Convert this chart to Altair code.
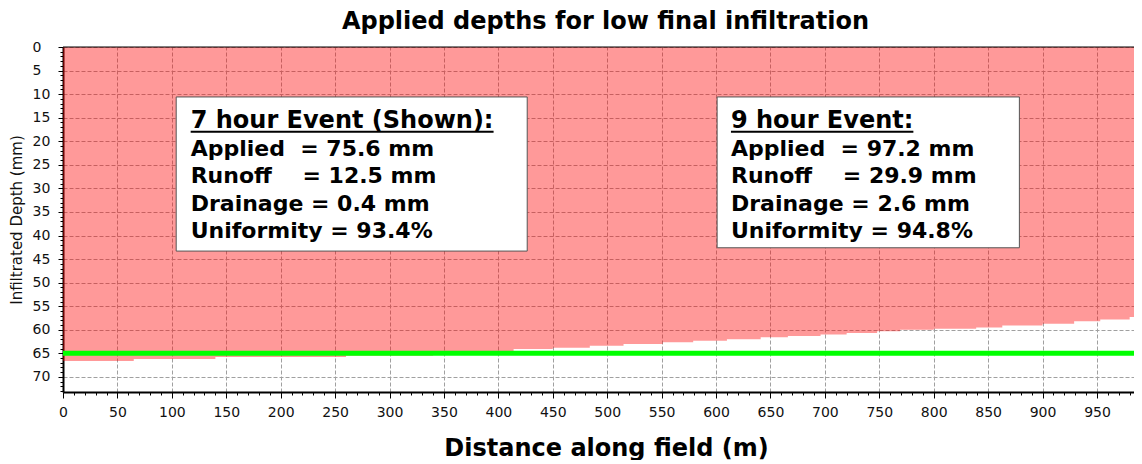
import altair as alt
import pandas as pd

# ---------------- data ----------------
distance_m = [0, 65, 140, 260, 340, 414, 450, 484, 515, 551, 579, 610, 641, 666,
              696, 720, 748, 769, 800, 839, 863, 900, 929, 953, 980, 991]
infiltrated_mm = [66.6, 66.2, 65.8, 65.5, 65.2, 64.1, 63.8, 63.4, 63.0, 62.65, 62.3,
                  62.0, 61.6, 61.3, 61.0, 60.7, 60.3, 60.0, 59.8, 59.5, 59.1, 58.7,
                  58.2, 57.8, 57.3, 56.9]
target_depth_mm = [65]

x_tick_values = list(range(0, 985, 10))   # minor every 10 m, labelled every 50 m
y_tick_values = list(range(0, 74))        # minor every 1 mm, labelled every 5 mm

event7_lines = ["7 hour Event (Shown):",
                "Applied\u00a0\u00a0= 75.6 mm",
                "Runoff\u00a0\u00a0\u00a0\u00a0= 12.5 mm",
                "Drainage = 0.4 mm",
                "Uniformity = 93.4%"]
event9_lines = ["9 hour Event:",
                "Applied\u00a0\u00a0= 97.2 mm",
                "Runoff\u00a0\u00a0\u00a0\u00a0= 29.9 mm",
                "Drainage = 2.6 mm",
                "Uniformity = 94.8%"]

# ---------------- annotation layout (data units) ----------------
box_x0 = [104, 601]
box_x1 = [426.5, 878.7]
box_y0 = [10.6, 10.6]
box_y1 = [43.3, 42.6]
text_x = [117.3, 613.7]
line_y = [17.25, 23.06, 28.9, 34.7, 40.6]
underline_x1 = [395.6, 781.3]
underline_y = 17.97

FONT = "DejaVu Sans"

area_df = pd.DataFrame({"dist": distance_m, "depth": infiltrated_mm})
target_df = pd.DataFrame({"depth": target_depth_mm})
box_df = pd.DataFrame({"bx0": box_x0, "bx1": box_x1, "by0": box_y0, "by1": box_y1})
head_df = pd.DataFrame({"tx": text_x, "ty": [line_y[0]] * 2,
                        "txt": [event7_lines[0], event9_lines[0]]})
body_rows = []
for lines, tx in ((event7_lines, text_x[0]), (event9_lines, text_x[1])):
    for i in range(1, 5):
        body_rows.append({"tx": tx, "ty": line_y[i], "txt": lines[i]})
body_df = pd.DataFrame(body_rows)
ul_df = pd.DataFrame({"ux0": text_x, "ux1": underline_x1, "uy": [underline_y] * 2})

x_axis = alt.Axis(
    values=x_tick_values, tickCount=500, format="d",
    labelExpr="datum.value % 50 === 0 ? datum.label : ''",
    labelOverlap=False, labelFlush=False,
    labelFont=FONT, labelFontSize=14, labelColor="#111111", labelPadding=7,
    tickSize={"condition": {"test": "datum.value % 50 === 0", "value": 6}, "value": 3},
    tickColor="black", tickWidth=1,
    grid=True, gridColor="#a0a0a0", gridDash=[4, 2], gridWidth=1,
    gridOpacity={"condition": {"test": "datum.value % 50 === 0", "value": 1}, "value": 0},
    domainColor="black", domainWidth=2,
    title="Distance along field (m)", titleFont=FONT, titleFontSize=24,
    titleFontWeight="bold", titleColor="black",
    titleX=543, titleY=44, titleBaseline="top", titleAlign="center",
)
y_axis = alt.Axis(
    values=y_tick_values, tickCount=500, format="d",
    labelExpr="datum.value % 5 === 0 ? datum.label : ''",
    labelOverlap=False, labelFlush=False,
    labelAlign="left", labelBaseline="middle", labelPadding=26,
    labelFont=FONT, labelFontSize=14, labelColor="#111111",
    tickSize={"condition": {"test": "datum.value % 5 === 0", "value": 5}, "value": 3},
    tickColor="black", tickWidth=1,
    grid=True, gridColor="#a0a0a0", gridDash=[4, 2], gridWidth=1,
    gridOpacity={"condition": {"test": "datum.value % 5 === 0", "value": 1}, "value": 0},
    domainColor="black", domainWidth=2,
    title="Infiltrated Depth (mm)", titleFont=FONT, titleFontSize=15,
    titleFontWeight="normal", titleColor="#111111",
    titleX=-47, titleY=172.5, titleAngle=270, titleBaseline="middle", titleAlign="center",
)

area = alt.Chart(area_df).mark_area(
    color="#FF0000", opacity=0.4, interpolate="step-after", clip=True
).encode(
    x=alt.X("dist:Q", scale=alt.Scale(domain=[0, 984], nice=False, zero=False), axis=x_axis),
    y=alt.Y("depth:Q", scale=alt.Scale(domain=[0, 73.2], nice=False, reverse=True), axis=y_axis),
    y2=alt.datum(0),
)

boxes = alt.Chart(box_df).mark_rect(fill="white", stroke="#555555", strokeWidth=1).encode(
    x="bx0:Q", x2="bx1", y="by0:Q", y2="by1"
)

heads = alt.Chart(head_df).mark_text(
    align="left", baseline="alphabetic", font=FONT, fontWeight="bold", fontSize=24, color="black"
).encode(x="tx:Q", y="ty:Q", text="txt:N")

body = alt.Chart(body_df).mark_text(
    align="left", baseline="alphabetic", font=FONT, fontWeight="bold", fontSize=22, color="black"
).encode(x="tx:Q", y="ty:Q", text="txt:N")

underline = alt.Chart(ul_df).mark_rule(color="black", strokeWidth=2).encode(
    x="ux0:Q", x2="ux1", y="uy:Q"
)

target = alt.Chart(target_df).mark_rule(color="#00FF00", strokeWidth=5).encode(y="depth:Q")

top_border = alt.Chart(target_df).mark_rule(color="black", strokeWidth=1).encode(y=alt.datum(0))

chart = alt.layer(area, boxes, heads, body, underline, target, top_border).properties(
    width=1071, height=345,
    title=alt.TitleParams("Applied depths for low final infiltration", font=FONT, fontSize=24,
                          fontWeight="bold", color="black", anchor="middle", frame="group",
                          offset=6, dx=7),
    padding={"left": 55, "top": 39, "right": 0, "bottom": 68},
    autosize="none",
).configure_view(stroke=None)

chart.save("out.html", embed_options={"renderer": "svg", "actions": False})
